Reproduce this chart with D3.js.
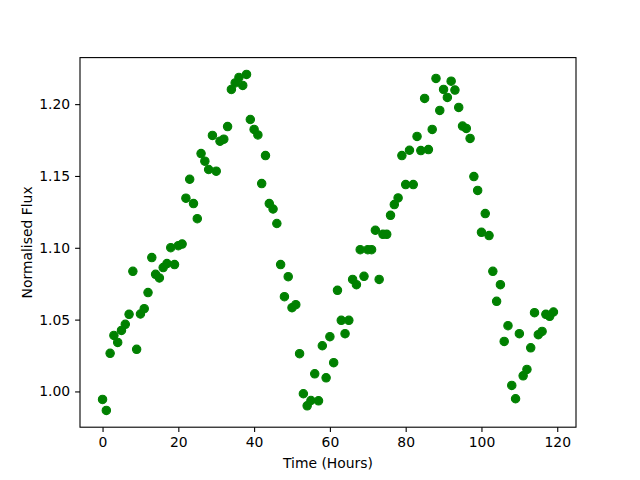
<!DOCTYPE html>
<html>
<head>
<meta charset="utf-8">
<script src="https://cdn.jsdelivr.net/npm/d3@7"></script>
<style>
  body { margin: 0; background: #fff; }
  text { font-family: "DejaVu Sans", sans-serif; }
</style>
</head>
<body>
<div id="chart"></div>
<script>
const time = [
  0, 1, 2, 3, 4, 5, 6, 7, 8, 9, 10, 11, 12, 13, 14, 15, 16, 17, 18, 19,
  20, 21, 22, 23, 24, 25, 26, 27, 28, 29, 30, 31, 32, 33, 34, 35, 36, 37, 38, 39,
  40, 41, 42, 43, 44, 45, 46, 47, 48, 49, 50, 51, 52, 53, 54, 55, 56, 57, 58, 59,
  60, 61, 62, 63, 64, 65, 66, 67, 68, 69, 70, 71, 72, 73, 74, 75, 76, 77, 78, 79,
  80, 81, 82, 83, 84, 85, 86, 87, 88, 89, 90, 91, 92, 93, 94, 95, 96, 97, 98, 99,
  100, 101, 102, 103, 104, 105, 106, 107, 108, 109, 110, 111, 112, 113, 114, 115, 116, 117, 118, 119
];

const flux = [
  0.9944, 0.9868, 1.0265, 1.0390, 1.0341, 1.0425, 1.0467, 1.0537, 1.0836, 1.0293,
  1.0539, 1.0576, 1.0688, 1.0932, 1.0815, 1.0790, 1.0862, 1.0890, 1.1001, 1.0883,
  1.1015, 1.1026, 1.1345, 1.1477, 1.1308, 1.1203, 1.1656, 1.1603, 1.1545, 1.1782,
  1.1533, 1.1742, 1.1756, 1.1844, 1.2102, 1.2148, 1.2186, 1.2130, 1.2207, 1.1893,
  1.1824, 1.1786, 1.1447, 1.1642, 1.1308, 1.1270, 1.1169, 1.0883, 1.0660, 1.0799,
  1.0583, 1.0604, 1.0263, 0.9984, 0.9900, 0.9937, 1.0123, 0.9935, 1.0318, 1.0095,
  1.0381, 1.0200, 1.0704, 1.0495, 1.0402, 1.0495, 1.0780, 1.0743, 1.0987, 1.0801,
  1.0987, 1.0987, 1.1122, 1.0780, 1.1094, 1.1094, 1.1226, 1.1301, 1.1347, 1.1642,
  1.1440, 1.1679, 1.1440, 1.1775, 1.1677, 1.2040, 1.1684, 1.1824, 1.2179, 1.1956,
  1.2102, 1.2047, 1.2160, 1.2098, 1.1977, 1.1847, 1.1831, 1.1761, 1.1496, 1.1399,
  1.1108, 1.1238, 1.1085, 1.0836, 1.0627, 1.0743, 1.0348, 1.0458, 1.0042, 0.9949,
  1.0402, 1.0109, 1.0153, 1.0304, 1.0548, 1.0395, 1.0418, 1.0537, 1.0523, 1.0553
];

const xTicks = [0, 20, 40, 60, 80, 100, 120];
const yTicks = [1.00, 1.05, 1.10, 1.15, 1.20];

const width = 640;
const height = 480;
const margin = { top: 57.6, right: 64, bottom: 52.8, left: 80 };
const innerW = width - margin.left - margin.right;
const innerH = height - margin.top - margin.bottom;

// matplotlib style 5% padding
function padded(values) {
  const [lo, hi] = d3.extent(values);
  const pad = (hi - lo) * 0.05;
  return [lo - pad, hi + pad];
}

const x = d3.scaleLinear().domain(padded(time)).range([0, innerW]);
const y = d3.scaleLinear().domain(padded(flux)).range([innerH, 0]);

const svg = d3.select("#chart")
  .append("svg")
  .attr("width", width)
  .attr("height", height)
  .style("background", "#fff");

const g = svg.append("g")
  .attr("transform", `translate(${margin.left}, ${margin.top})`);

const points = time.map((t, i) => ({ t: t, f: flux[i] }));

g.selectAll("circle")
  .data(points)
  .enter()
  .append("circle")
  .attr("cx", d => x(d.t))
  .attr("cy", d => y(d.f))
  .attr("r", 4.2)
  .attr("fill", "green")
  .attr("stroke", "green")
  .attr("stroke-width", 1.1);

const xAxis = g.append("g")
  .attr("transform", `translate(0, ${innerH})`)
  .call(d3.axisBottom(x).tickValues(xTicks).tickSize(4.9).tickPadding(4.9).tickFormat(d3.format("d")));

const yAxis = g.append("g")
  .call(d3.axisLeft(y).tickValues(yTicks).tickSize(4.9).tickPadding(4.9).tickFormat(d3.format(".2f")));

[xAxis, yAxis].forEach(a => {
  a.select(".domain").remove();
  a.selectAll(".tick line").attr("stroke", "#000").attr("stroke-width", 1.1);
  a.selectAll(".tick text")
    .attr("fill", "#000")
    .style("font-size", "13.9px")
    .style("font-family", "'DejaVu Sans', sans-serif");
});

// frame
g.append("rect")
  .attr("x", 0)
  .attr("y", 0)
  .attr("width", innerW)
  .attr("height", innerH)
  .attr("fill", "none")
  .attr("stroke", "#000")
  .attr("stroke-width", 1.1);

g.append("text")
  .attr("x", innerW / 2)
  .attr("y", innerH + 41)
  .attr("text-anchor", "middle")
  .style("font-size", "13.9px")
  .text("Time (Hours)");

g.append("text")
  .attr("transform", `translate(${-48}, ${innerH / 2}) rotate(-90)`)
  .attr("text-anchor", "middle")
  .style("font-size", "13.9px")
  .text("Normalised Flux");
</script>
</body>
</html>
